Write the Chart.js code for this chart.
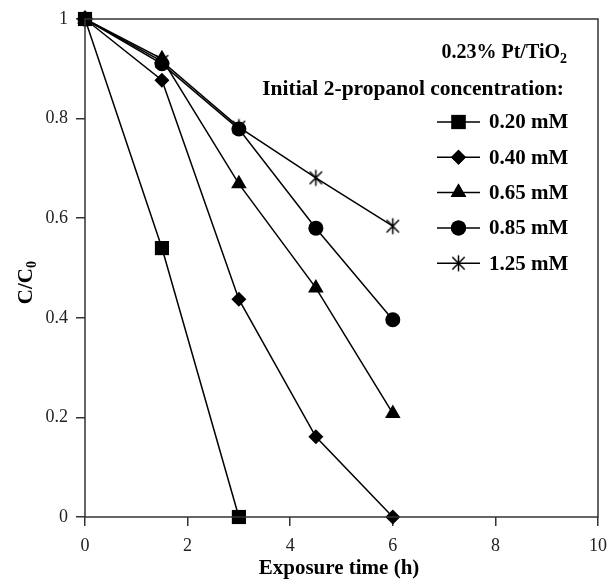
<!DOCTYPE html>
<html>
<head>
<meta charset="utf-8">
<script src="https://cdn.jsdelivr.net/npm/chart.js@4/dist/chart.umd.min.js"></script>
<style>
  html, body { margin: 0; padding: 0; background: #fff; }
  #wrap { width: 608px; height: 581px; position: relative; }
</style>
</head>
<body>
<div id="wrap"><canvas id="c" width="608" height="581"></canvas></div>
<script>
// exposure time (h)
const hours = [0, 1.5, 3, 4.5, 6];
// C/C0 per initial 2-propanol concentration
const c020 = [1, 0.54, 0];
const c040 = [1, 0.877, 0.437, 0.161, 0];
const c065 = [1, 0.92, 0.669, 0.46, 0.208];
const c085 = [1, 0.91, 0.779, 0.58, 0.396];
const c125 = [1, 0.915, 0.783, 0.681, 0.584];
const seriesLabels = ["0.20 mM", "0.40 mM", "0.65 mM", "0.85 mM", "1.25 mM"];
const xTicks = [0, 2, 4, 6, 8, 10];
const yTicks = [0, 0.2, 0.4, 0.6, 0.8, 1];

const FONT = "'Liberation Serif', 'Times New Roman', serif";

function starMark() {
   const s = 19;
   const cv = document.createElement("canvas");
   cv.width = s; cv.height = s;
   const g = cv.getContext("2d");
   g.strokeStyle = "#000";
   g.lineWidth = 1.5;
   const c = s / 2, r = 8, d = 6.2;
   g.beginPath();
   g.moveTo(c, c - r); g.lineTo(c, c + r);
   g.moveTo(c - d, c - d); g.lineTo(c + d, c + d);
   g.moveTo(c - d, c + d); g.lineTo(c + d, c - d);
   g.stroke();
   return cv;
}

const styles = [
   { pointStyle: "rect", radius: 10 },
   { pointStyle: "rectRot", radius: 7.5 },
   { pointStyle: "triangle", radius: 9 },
   { pointStyle: "circle", radius: 7.5 },
   { pointStyle: starMark(), radius: 8 },
];

const values = [c020, c040, c065, c085, c125];

const datasets = values.map((vals, i) => ({
   label: seriesLabels[i],
   data: vals.map((v, j) => ({ x: hours[j], y: v })),
   borderColor: "#000",
   borderWidth: 1.5,
   backgroundColor: "#000",
   pointStyle: styles[i].pointStyle,
   pointRadius: styles[i].radius,
   pointHoverRadius: styles[i].radius,
   pointBorderWidth: 0,
   pointBackgroundColor: "#000",
   pointBorderColor: "#000",
   tension: 0,
   clip: false,
}));

const decor = {
   id: "decor",
   afterDraw(chart) {
      const { ctx, chartArea: a } = chart;
      ctx.save();
      // frame
      ctx.strokeStyle = "#333";
      ctx.lineWidth = 1.5;
      ctx.strokeRect(a.left, a.top, a.right - a.left, a.bottom - a.top);

      ctx.fillStyle = "#000";
      // axis titles
      ctx.font = `bold 21px ${FONT}`;
      ctx.textAlign = "center";
      ctx.textBaseline = "middle";
      ctx.fillText("Exposure time (h)", 339, 569);
      ctx.save();
      ctx.translate(27, 274);
      ctx.rotate(-Math.PI / 2);
      ctx.font = `bold 21px ${FONT}`;
      ctx.textAlign = "right";
      ctx.fillText("C/C", 6, 0);
      ctx.font = `bold 14px ${FONT}`;
      ctx.textAlign = "left";
      ctx.fillText("0", 6, 5);
      ctx.restore();

      // annotation
      ctx.textAlign = "left";
      ctx.font = `bold 20px ${FONT}`;
      const t1 = "0.23% Pt/TiO";
      const w1 = ctx.measureText(t1).width;
      const x1 = 569 - w1 - 9;
      ctx.fillText(t1, x1, 53);
      ctx.font = `bold 14px ${FONT}`;
      ctx.fillText("2", x1 + w1, 59);
      ctx.font = `bold 21.5px ${FONT}`;
      ctx.textAlign = "right";
      ctx.fillText("Initial 2-propanol concentration:", 564, 89);

      // legend
      ctx.textAlign = "left";
      ctx.font = `bold 21px ${FONT}`;
      seriesLabels.forEach((lab, i) => {
         const y = 122 + i * 35.3;
         ctx.strokeStyle = "#000";
         ctx.lineWidth = 1.5;
         ctx.beginPath();
         ctx.moveTo(437, y);
         ctx.lineTo(480, y);
         ctx.stroke();
         Chart.helpers.drawPoint(ctx, {
            pointStyle: styles[i].pointStyle,
            radius: styles[i].radius,
            rotation: 0,
            borderWidth: 0,
         }, 458.5, y);
         ctx.fillStyle = "#000";
         ctx.fill();
         ctx.fillText(lab, 489, y + 1);
      });
      ctx.restore();
   },
};

new Chart(document.getElementById("c"), {
   type: "line",
   data: { datasets },
   options: {
      responsive: false,
      animation: false,
      events: [],
      layout: { padding: { left: 0, top: 19, right: 0, bottom: 0 } },
      plugins: { legend: { display: false }, tooltip: { enabled: false } },
      scales: {
         x: {
            type: "linear",
            min: 0,
            max: 10,
            afterBuildTicks: (s) => { s.ticks = xTicks.map((v) => ({ value: v })); },
            afterFit: (s) => { s.height = 64; s.paddingRight = 1; s.paddingLeft = 0; },
            border: { display: false },
            grid: { drawOnChartArea: false, drawTicks: true, tickLength: 9, color: "#333", lineWidth: 1.5 },
            ticks: { color: "#222", font: { family: FONT, size: 18 }, padding: 9, maxRotation: 0 },
         },
         y: {
            type: "linear",
            min: 0,
            max: 1,
            afterBuildTicks: (s) => { s.ticks = yTicks.map((v) => ({ value: v })); },
            afterFit: (s) => { s.width = 85; },
            border: { display: false },
            grid: { drawOnChartArea: false, drawTicks: true, tickLength: 9, color: "#333", lineWidth: 1.5 },
            ticks: {
               color: "#222",
               font: { family: FONT, size: 18 },
               padding: 8,
               callback: (v) => String(+Number(v).toFixed(1)),
            },
         },
      },
   },
   plugins: [decor],
});
</script>
</body>
</html>
